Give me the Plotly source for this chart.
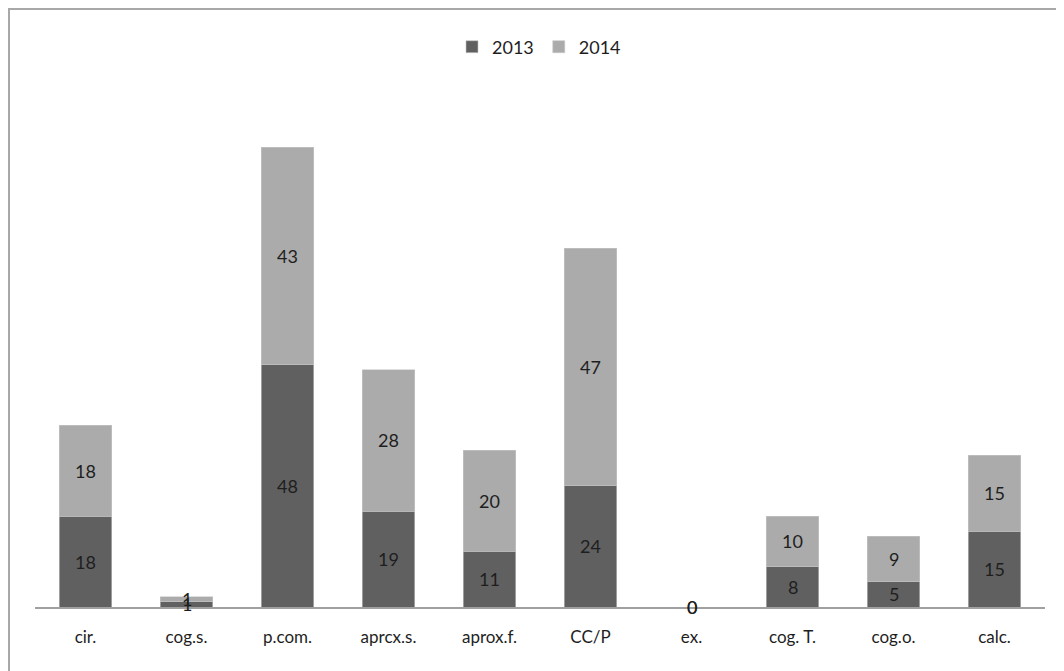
import plotly.graph_objects as go

categories = ["cir.", "cog.s.", "p.com.", "aprcx.s.", "aprox.f.", "CC/P", "ex.", "cog. T.", "cog.o.", "calc."]
values_2013 = [18, 1, 48, 19, 11, 24, 0, 8, 5, 15]
values_2014 = [18, 1, 43, 28, 20, 47, 0, 10, 9, 15]
series_names = ["2013", "2014"]
colors = ["#606060", "#ababab"]

# page body has an 8px margin; figure sized to fit the window
OFF = 8
W, H = 1064 - OFF, 671 - OFF
L, R, T, B = 35 - OFF, 19, 113 - OFF, 64
pw, ph = W - L - R, H - T - B

fig = go.Figure()
for name, vals, c in zip(series_names, [values_2013, values_2014], colors):
    fig.add_trace(go.Bar(
        x=categories, y=vals, name=name,
        marker=dict(color=c, line=dict(color="#c8c8c8", width=0.6)),
    ))

font_family = "Lato, Carlito, 'Open Sans', sans-serif"
annotations = []
for i, cat in enumerate(categories):
    base = 0
    for vals in (values_2013, values_2014):
        v = vals[i]
        annotations.append(dict(
            x=cat, y=base + v / 2, xref="x", yref="y", text=str(v),
            showarrow=False, font=dict(size=18, color="#1e1e1e", family=font_family),
        ))
        base += v

def px_x(p):
    return (p - OFF - L) / pw

def px_y(p):
    return (H - B - (p - OFF)) / ph

shapes = [
    dict(type="line", xref="paper", yref="paper", x0=px_x(8), x1=px_x(1070), y0=px_y(9), y1=px_y(9),
         line=dict(color="#a8a8a8", width=2)),
    dict(type="line", xref="paper", yref="paper", x0=px_x(9), x1=px_x(9), y0=px_y(8), y1=px_y(680),
         line=dict(color="#a8a8a8", width=2)),
]

fig.update_layout(
    width=W, height=H,
    margin=dict(l=L, r=R, t=T, b=B),
    barmode="stack", bargap=0.485,
    plot_bgcolor="white", paper_bgcolor="white",
    font=dict(family=font_family, size=17, color="#1e1e1e"),
    showlegend=True,
    legend=dict(orientation="h", x=px_x(539), y=px_y(47), xanchor="center", yanchor="middle",
                font=dict(size=18, color="#1e1e1e"), itemwidth=30, traceorder="normal",
                bgcolor="rgba(0,0,0,0)"),
    xaxis=dict(showgrid=False, showline=True, linecolor="#a0a0a0", linewidth=2,
               ticks="", tickfont=dict(size=17, color="#1e1e1e"), ticklabelstandoff=14),
    yaxis=dict(range=[0, 97.8], visible=False, showgrid=False, zeroline=False),
    annotations=annotations,
    shapes=shapes,
)

fig.write_html("out.html")
